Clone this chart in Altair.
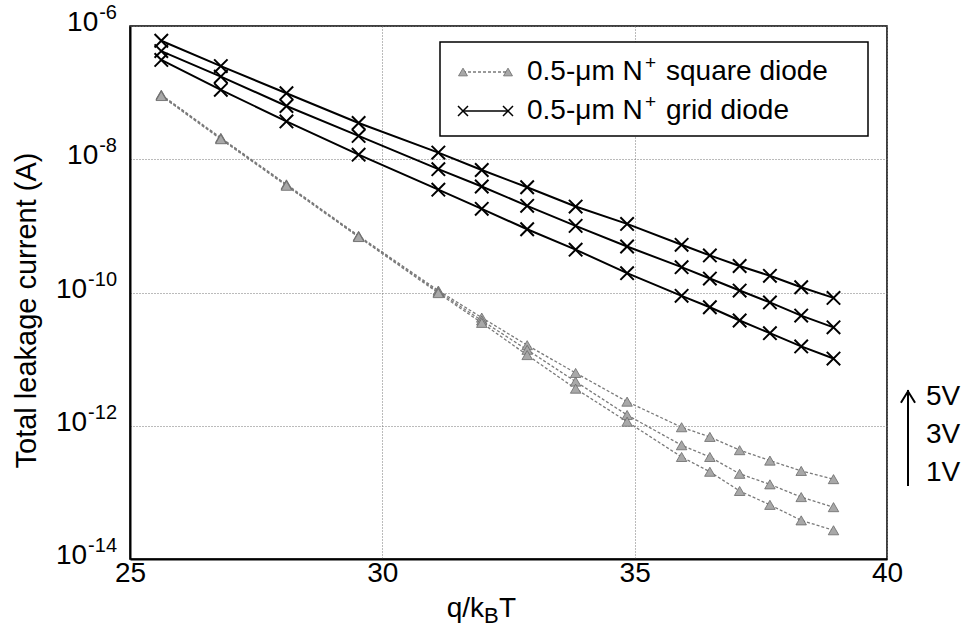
import altair as alt
import pandas as pd

# q/kT values (x axis)
q_over_kT = [25.62, 26.80, 28.10, 29.53, 31.11, 31.97, 32.87, 33.83, 34.85,
             35.93, 36.49, 37.08, 37.68, 38.30, 38.94]
voltages = ["5V", "3V", "1V"]

# 0.5-um N+ grid diode (A)
grid_5V = [6.0e-7, 2.5e-7, 9.8e-8, 3.5e-8, 1.26e-8, 6.9e-9, 3.8e-9, 1.95e-9, 1.07e-9,
           5.2e-10, 3.6e-10, 2.5e-10, 1.78e-10, 1.2e-10, 8.3e-11]
grid_3V = [4.2e-7, 1.74e-7, 6.3e-8, 2.24e-8, 7.1e-9, 3.9e-9, 2.0e-9, 1.0e-9, 4.9e-10,
           2.4e-10, 1.62e-10, 1.07e-10, 7.1e-11, 4.5e-11, 3.0e-11]
grid_1V = [3.1e-7, 1.1e-7, 3.7e-8, 1.17e-8, 3.5e-9, 1.8e-9, 8.9e-10, 4.4e-10, 1.95e-10,
           8.9e-11, 6.0e-11, 3.8e-11, 2.45e-11, 1.55e-11, 1.02e-11]

# 0.5-um N+ square diode (A)
sq_5V = [9.3e-8, 2.1e-8, 4.2e-9, 7.1e-10, 1.07e-10, 4.2e-11, 1.62e-11, 6.2e-12, 2.3e-12,
         9.5e-13, 6.8e-13, 4.3e-13, 3.0e-13, 2.1e-13, 1.58e-13]
sq_3V = [9.1e-8, 2.04e-8, 4.1e-9, 6.9e-10, 1.02e-10, 3.8e-11, 1.38e-11, 4.6e-12, 1.45e-12,
         5.1e-13, 3.4e-13, 1.9e-13, 1.32e-13, 8.5e-14, 6.0e-14]
sq_1V = [8.9e-8, 2.0e-8, 4.0e-9, 6.8e-10, 9.8e-11, 3.5e-11, 1.15e-11, 3.6e-12, 1.15e-12,
         3.4e-13, 2.04e-13, 1.05e-13, 6.5e-14, 3.8e-14, 2.7e-14]

x_ticks = [25, 30, 35, 40]
y_ticks = [1e-14, 1e-12, 1e-10, 1e-8, 1e-6]
y_exps = ["-14", "-12", "-10", "-8", "-6"]
legend_pre = ["0.5-\u03bcm N", "0.5-\u03bcm N"]
legend_post = ["square diode", "grid diode"]
bias_labels = ["5V", "3V", "1V"]

rows = []
for v, g, s in zip(voltages, [grid_5V, grid_3V, grid_1V], [sq_5V, sq_3V, sq_1V]):
    for x, gi, si in zip(q_over_kT, g, s):
        rows.append({"x": x, "I": gi, "diode": "grid", "V": v})
        rows.append({"x": x, "I": si, "diode": "square", "V": v})
df = pd.DataFrame(rows)
grid_df = df[df.diode == "grid"]
sq_df = df[df.diode == "square"]

FONT = "Liberation Sans"
W, H = 757, 533
BIG = 28
SMALL = 20

yscale = alt.Scale(type="log", domain=[1e-14, 1e-6], nice=False)

x_enc = alt.X("x:Q", scale=alt.Scale(domain=[25, 40], nice=False, zero=False),
              axis=alt.Axis(values=x_ticks, title=None, grid=True, gridDash=[1, 2],
                            gridColor="#777", gridWidth=1, ticks=False, labelPadding=0,
                            labelFontSize=BIG, labelFont=FONT, labelColor="black",
                            domainColor="black", domainWidth=2, labelFlush=False))
y_axis = alt.Axis(values=y_ticks, labels=False, grid=True, gridDash=[1, 2],
                  gridColor="#777", gridWidth=1, ticks=False,
                  domainColor="black", domainWidth=2,
                  title="Total leakage current (A)", titleFont=FONT,
                  titleFontSize=29, titleFontWeight="normal", titleColor="black",
                  titleX=-104, titleY=284, titleAngle=270, titleAlign="center",
                  titleBaseline="middle")
y_enc = alt.Y("I:Q", scale=yscale, axis=y_axis)

base_sq = alt.Chart(sq_df)
base_gr = alt.Chart(grid_df)

sq_line = base_sq.mark_line(color="#7a7a7a", strokeWidth=1.3, strokeDash=[3, 2]).encode(
    x=x_enc, y=y_enc, detail="V:N")
sq_pts = base_sq.mark_point(shape="triangle-up", filled=True, fill="#a8a8a8", stroke="#6a6a6a",
                            strokeWidth=0.8, size=110, opacity=1).encode(x="x:Q", y=y_enc)
gr_line = base_gr.mark_line(color="black", strokeWidth=2).encode(x="x:Q", y=y_enc, detail="V:N")
gr_pts = base_gr.mark_point(shape="M-1,-1L1,1M-1,1L1,-1", filled=False, color="black",
                            strokeWidth=2, size=180, opacity=1).encode(x="x:Q", y=y_enc)

# y tick labels as 10 with raised exponent
ylab = alt.Chart(pd.DataFrame({"I": y_ticks, "exp": y_exps})).transform_calculate(
    xb=f"-13 - {SMALL}*(0.333 + 0.556*(length(datum.exp)-1)) - 1")
ylab_base = ylab.mark_text(text="10", align="right", baseline="middle", font=FONT,
                           fontSize=BIG, color="black", dy=-3).encode(
    x=alt.X("xb:Q", scale=None), y=y_enc)
ylab_exp = ylab.mark_text(align="right", baseline="middle", font=FONT,
                          fontSize=SMALL, color="black", dy=-13).encode(
    x=alt.value(-13), y=y_enc, text="exp:N")

one = alt.Chart(pd.DataFrame({"a": [0]}))

# legend box
leg_box = one.mark_rect(fill="white", stroke="black", strokeWidth=1.5).encode(
    x=alt.value(310), x2=alt.value(738), y=alt.value(16), y2=alt.value(110))
leg_sq_line = one.mark_rule(color="#7a7a7a", strokeWidth=1.3, strokeDash=[3, 2]).encode(
    x=alt.value(333), x2=alt.value(378), y=alt.value(46))
leg_sq_pts = alt.Chart(pd.DataFrame({"px": [333, 378]})).mark_point(
    shape="triangle-up", filled=True, fill="#a8a8a8", stroke="#6a6a6a", strokeWidth=0.8,
    size=80, opacity=1).encode(x=alt.X("px:Q", scale=None), y=alt.value(46))
leg_gr_line = one.mark_rule(color="black", strokeWidth=1.5).encode(
    x=alt.value(333), x2=alt.value(378), y=alt.value(85))
leg_gr_pts = alt.Chart(pd.DataFrame({"px": [333, 378]})).mark_point(
    shape="M-1,-1L1,1M-1,1L1,-1", filled=False, color="black", strokeWidth=1.5,
    size=100, opacity=1).encode(x=alt.X("px:Q", scale=None), y=alt.value(85))
leg_df = pd.DataFrame({"pre": legend_pre, "post": legend_post, "py": [46, 85]})
leg_t1 = alt.Chart(leg_df).mark_text(align="left", baseline="middle", font=FONT,
                                     fontSize=BIG, color="black").encode(
    x=alt.value(397), y=alt.Y("py:Q", scale=None), text="pre:N")
leg_t2 = alt.Chart(leg_df).mark_text(text="+", align="left", baseline="middle", font=FONT,
                                     fontSize=19, color="black", dy=-9).encode(
    x=alt.value(515), y=alt.Y("py:Q", scale=None))
leg_t3 = alt.Chart(leg_df).mark_text(align="left", baseline="middle", font=FONT,
                                     fontSize=BIG, color="black").encode(
    x=alt.value(536), y=alt.Y("py:Q", scale=None), text="post:N")

# bias arrow annotation
arrow = one.mark_rule(color="black", strokeWidth=2).encode(
    x=alt.value(778), y=alt.value(364), y2=alt.value(460))
arrow_head = one.mark_point(shape="M-1,0.8L0,-0.8L1,0.8", filled=False, color="black",
                            strokeWidth=2, size=200, opacity=1).encode(
    x=alt.value(778), y=alt.value(371))
bias_text = alt.Chart(pd.DataFrame({"t": bias_labels, "py": [371, 409, 447]})).mark_text(
    align="left", baseline="middle", font=FONT, fontSize=BIG, color="black").encode(
    x=alt.value(796), y=alt.Y("py:Q", scale=None), text="t:N")

# x-axis title q/k_B T
xt1 = one.mark_text(text="q/k", align="right", baseline="alphabetic", font=FONT,
                    fontSize=BIG, color="black").encode(x=alt.value(354), y=alt.value(591))
xt2 = one.mark_text(text="B", align="left", baseline="alphabetic", font=FONT,
                    fontSize=22, color="black").encode(x=alt.value(354), y=alt.value(597))
xt3 = one.mark_text(text="T", align="left", baseline="alphabetic", font=FONT,
                    fontSize=BIG, color="black").encode(x=alt.value(369), y=alt.value(591))

chart = alt.layer(
    sq_line, sq_pts, gr_line, gr_pts, ylab_base, ylab_exp,
    leg_box, leg_sq_line, leg_sq_pts, leg_gr_line, leg_gr_pts, leg_t1, leg_t2, leg_t3,
    arrow, arrow_head, bias_text, xt1, xt2, xt3
).properties(
    width=W, height=H,
    autosize=alt.AutoSizeParams(type="none"),
    padding={"left": 130, "top": 26, "right": 77, "bottom": 71},
    background="white",
).configure_view(stroke="black", strokeWidth=1.5)

chart.save("out.html", embed_options={"renderer": "svg", "actions": False})
